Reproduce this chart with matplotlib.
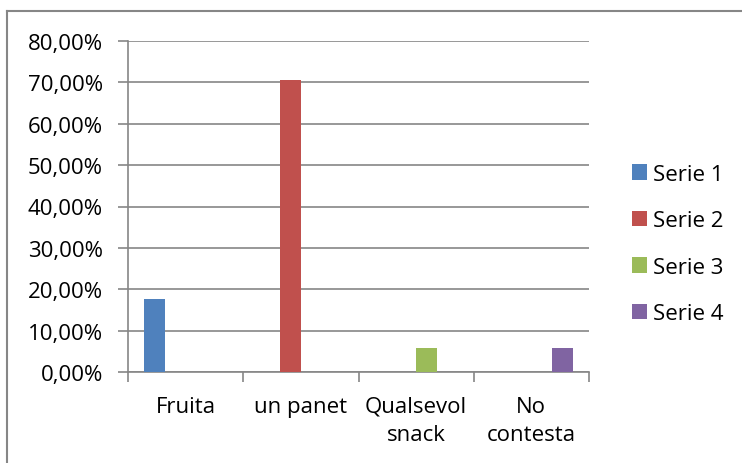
import numpy as np
import matplotlib.pyplot as plt
from matplotlib.lines import Line2D
from matplotlib.ticker import FuncFormatter

categories = ["Fruita", "un panet", "Qualsevol\nsnack", "No\ncontesta"]
series_names = ["Serie 1", "Serie 2", "Serie 3", "Serie 4"]
# one value per series per category (percent)
serie1 = [17.65, 0, 0, 0]
serie2 = [0, 70.59, 0, 0]
serie3 = [0, 0, 5.88, 0]
serie4 = [0, 0, 0, 5.88]
colors = ["#4F81BD", "#C0504D", "#9BBB59", "#8064A2"]

plt.rcParams["font.family"] = ["Open Sans", "DejaVu Sans"]
FS = 16

W, H = 742, 464
fig = plt.figure(figsize=(W / 100, H / 100), dpi=100)
ax = fig.add_axes([128 / W, 1 - 373 / H, (589 - 128) / W, (373 - 42) / H])

x = np.arange(len(categories))
bw = 1 / 5.5
for i, (vals, name, c) in enumerate(zip([serie1, serie2, serie3, serie4], series_names, colors)):
    ax.bar(x + (i - 1.5) * bw, vals, width=bw, color=c, label=name, zorder=3)

ax.set_xlim(-0.5, 3.5)
ax.set_ylim(0, 80)
ax.set_yticks(np.arange(0, 81, 10))
ax.yaxis.set_major_formatter(FuncFormatter(lambda v, p: f"{v:.2f}%".replace(".", ",")))
ax.grid(axis="y", color="#868686", linewidth=1.2, zorder=0)

# category boundaries as ticks, labels at centres
ax.set_xticks(np.arange(-0.5, 3.6, 1))
ax.set_xticklabels([])
ax.set_xticks(x, minor=True)
ax.set_xticklabels(categories, minor=True, fontsize=FS, linespacing=1.45)
ax.tick_params(axis="x", which="minor", length=0, pad=17)
ax.tick_params(axis="x", which="major", length=7, width=1.2, color="#868686")
ax.tick_params(axis="y", length=7, width=1.2, color="#868686", labelsize=FS, pad=11)

for s in ["top", "right"]:
    ax.spines[s].set_visible(False)
for s in ["left", "bottom"]:
    ax.spines[s].set_color("#868686")
    ax.spines[s].set_linewidth(1.2)

ax.legend(loc="center left", bbox_to_anchor=(623 / W, 1 - 245 / H), bbox_transform=fig.transFigure,
          frameon=False, fontsize=FS, handlelength=0.7, handleheight=0.7, handletextpad=0.25,
          labelspacing=1.15, borderaxespad=0)

# outer chart frame
fig.add_artist(Line2D([7 / W, 7 / W], [0, 1 - 12 / H], color="#868686", linewidth=1.5))
fig.add_artist(Line2D([7 / W, 1], [1 - 12 / H, 1 - 12 / H], color="#868686", linewidth=1.5))

fig.savefig("out.png", dpi=100)
